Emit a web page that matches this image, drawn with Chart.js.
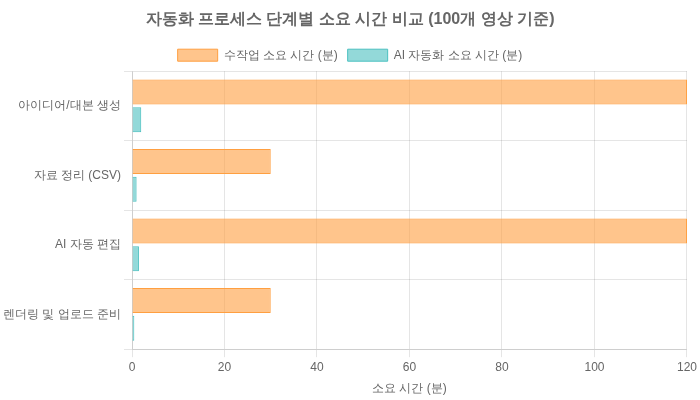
<!DOCTYPE html>
<html>
<head>
<meta charset="utf-8">
<script src="https://cdn.jsdelivr.net/npm/chart.js@4"></script>
<style>
	html, body { margin: 0; padding: 0; background: #fff; }
	#wrap { width: 700px; height: 400px; }
</style>
</head>
<body>
<div id="wrap"><canvas id="myChart1"></canvas></div>
<script>
var stages = ["아이디어/대본 생성", "자료 정리 (CSV)", "AI 자동 편집", "렌더링 및 업로드 준비"];
var manualMinutes = [120, 30, 120, 30];
var aiMinutes = [2, 1, 1.5, 0.5];

window.onload = function() {
	var ctx = document.getElementById("myChart1").getContext("2d");
	window.myBar = new Chart(ctx, {
		type: 'bar',
		data: {
			labels: stages,
			datasets: [{
				label: '수작업 소요 시간 (분)',
				backgroundColor: "rgba(255, 159, 64, 0.6)",
				borderColor: "rgb(255, 159, 64)",
				borderWidth: 1,
				data: manualMinutes
			}, {
				label: 'AI 자동화 소요 시간 (분)',
				backgroundColor: "rgba(75, 192, 192, 0.6)",
				borderColor: "rgb(75, 192, 192)",
				borderWidth: 1,
				data: aiMinutes
			}]
		},
		options: {
			indexAxis: 'y',
			responsive: true,
			maintainAspectRatio: false,
			animation: false,
			plugins: {
				title: {
					display: true,
					text: '자동화 프로세스 단계별 소요 시간 비교 (100개 영상 기준)',
					font: { size: 16, weight: 'bold' }
				},
				legend: {
					position: 'top'
				}
			},
			scales: {
				x: {
					beginAtZero: true,
					max: 120,
					title: { display: true, text: '소요 시간 (분)' }
				}
			}
		}
	});
};
</script>
</body>
</html>
